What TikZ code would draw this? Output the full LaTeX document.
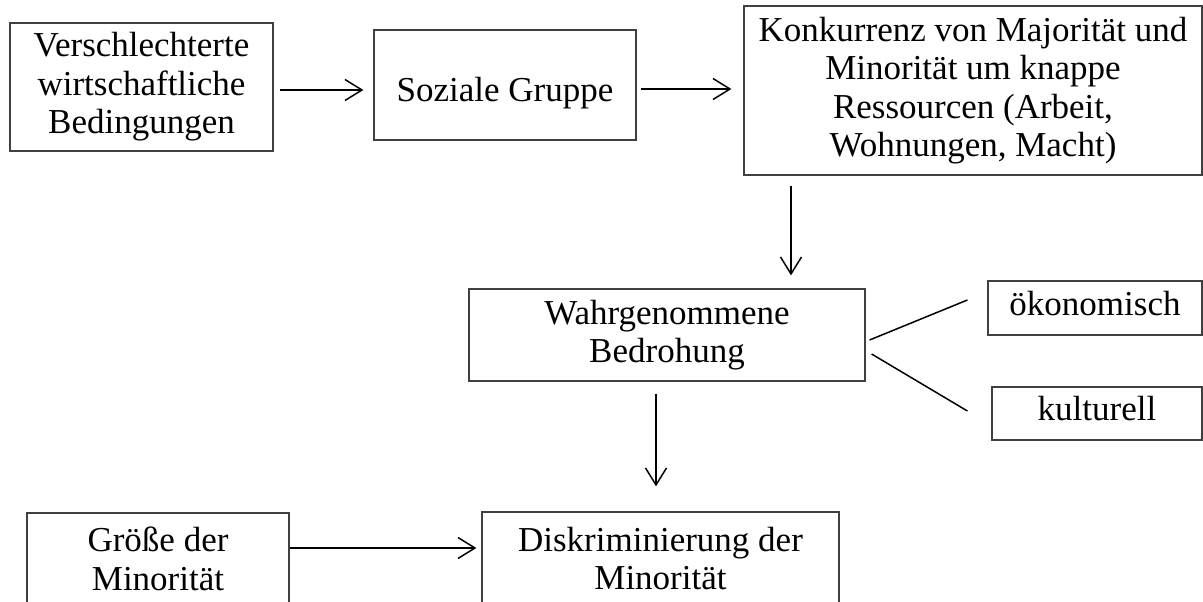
\documentclass[tikz,border=0pt]{standalone}
\usepackage{fontspec}
\setmainfont{Liberation Serif}
\usetikzlibrary{arrows.meta}
\tikzset{
  box/.style={draw=black!75, line width=1.2pt, inner sep=0pt, align=center,
    font=\fontsize{35}{38.5}\selectfont},
  arr/.style={draw=black, line width=1.5pt, -{Straight Barb[length=17pt,width=21pt,line width=1.5pt]}},
  ln/.style={draw=black, line width=1.5pt}
}
\begin{document}
\begin{tikzpicture}[x=1pt,y=-1pt]
\useasboundingbox (0,0) rectangle (1203,602);
\fill[white] (0,0) rectangle (1203,602);
\node[box, minimum width=263pt, minimum height=128pt] (b1) at (141.5,87) {Verschlechterte\\wirtschaftliche\\Bedingungen};
\node[box, minimum width=262pt, minimum height=110pt, text height=34pt, text depth=0pt] (b2) at (505,85) {Soziale Gruppe};
\node[box, minimum width=458pt, minimum height=169pt] (b3) at (973,90.5) {Konkurrenz von Majorität und\\Minorität um knappe\\Ressourcen (Arbeit,\\Wohnungen, Macht)};
\node[box, minimum width=396pt, minimum height=92pt] (b4) at (667,335) {Wahrgenommene\\Bedrohung};
\node[box, minimum width=214pt, minimum height=54pt, text height=24pt, text depth=10pt] (b5) at (1095,308) {ökonomisch};
\node[box, minimum width=210pt, minimum height=53pt, text height=24pt, text depth=10pt] (b6) at (1097,413.5) {kulturell};
\node[box, minimum width=262pt, minimum height=92pt] (b7) at (158,559) {Größe der\\Minorität};
\node[box, minimum width=357pt, minimum height=93pt] (b8) at (660.5,558.5) {Diskriminierung der\\Minorität};
\draw[arr] ([shift={(6,3)}]b1.east) -- ([shift={(-10,5)}]b2.west);
\draw[arr] ([shift={(4,4)}]b2.east) -- ([shift={(-12,-1.5)}]b3.west);
\draw[arr] ([shift={(-182,10)}]b3.south) -- ([shift={(124,-13)}]b4.north);
\draw[arr] ([shift={(-11,12)}]b4.south) -- ([shift={(-4.5,-25)}]b8.north);
\draw[arr] ([shift={(0,-11)}]b7.east) -- ([shift={(-5,-10.5)}]b8.west);
\draw[ln] ([shift={(4,5)}]b4.east) -- ([shift={(-20,-8)}]b5.west);
\draw[ln] ([shift={(6,19)}]b4.east) -- ([shift={(-24,-2.5)}]b6.west);
\end{tikzpicture}
\end{document}
